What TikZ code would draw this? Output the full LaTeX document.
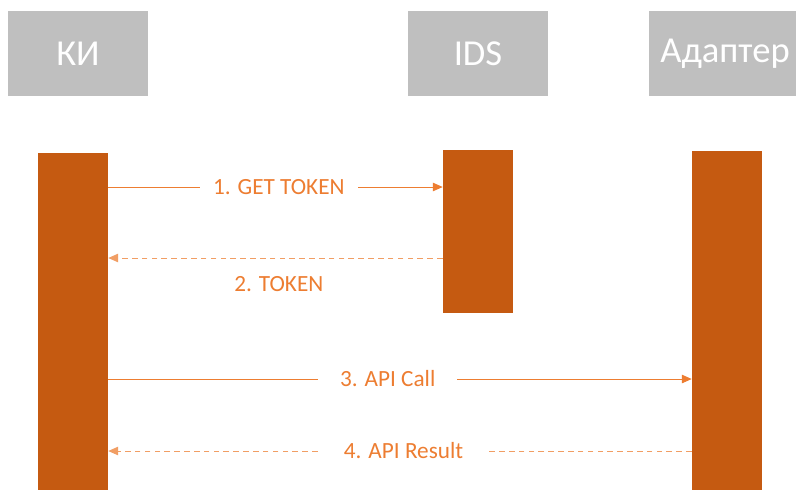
\documentclass[tikz,border=0pt]{standalone}
\usepackage{fontspec}
\setmainfont{Carlito}
\usetikzlibrary{arrows.meta}
\definecolor{headgray}{HTML}{BFBFBF}
\definecolor{barorange}{HTML}{C55A11}
\definecolor{msgorange}{HTML}{ED7D31}
\tikzset{
  headbox/.style={fill=headgray, text=white, inner sep=0pt,
    minimum width=3.5cm, minimum height=2.125cm,
    font=\fontsize{26}{31}\selectfont},
  lifebar/.style={fill=barorange, inner sep=0pt, minimum width=1.75cm},
  call/.style={msgorange, line width=0.7pt, -{Triangle[length=7pt,width=6pt]}},
  reply/.style={call, msgorange!75, dash pattern=on 4pt off 3pt},
  msglabel/.style={text=msgorange, font=\fontsize{16.5}{20}\selectfont}
}
\begin{document}
\begin{tikzpicture}[x=0.025cm, y=-0.025cm]
  \useasboundingbox[fill=white] (0,0) rectangle (796,489);
  % participants
  \node[headbox] (ki) at (78,53.5) {КИ};
  \node[headbox] (ids) at (478,53.5) {IDS};
  \node[headbox, minimum width=3.8cm] (adapter) at (725,53.5) {Адаптер};
  % activation bars
  \node[lifebar, minimum height=8.55cm] (kibar) at (73,324) {};
  \node[lifebar, minimum height=4.075cm] (idsbar) at (478,231.5) {};
  \node[lifebar, minimum height=8.6cm] (adapterbar) at (727,323) {};
  % messages
  \draw[call] (kibar.east |- 0,187) -- node[msglabel, fill=white, inner xsep=0.33cm, pos=0.51] {1. GET TOKEN} (idsbar.west |- 0,187);
  \draw[reply] (idsbar.west |- 0,258) -- node[msglabel, below=0.33cm, pos=0.49] {2. TOKEN} (kibar.east |- 0,258);
  \draw[call] (kibar.east |- 0,379) -- node[msglabel, fill=white, inner xsep=0.55cm, pos=0.479] {3. API Call} (adapterbar.west |- 0,379);
  \draw[reply] (adapterbar.west |- 0,451) -- node[msglabel, fill=white, inner xsep=0.59cm, pos=0.494] {4. API Result} (kibar.east |- 0,451);
\end{tikzpicture}
\end{document}
